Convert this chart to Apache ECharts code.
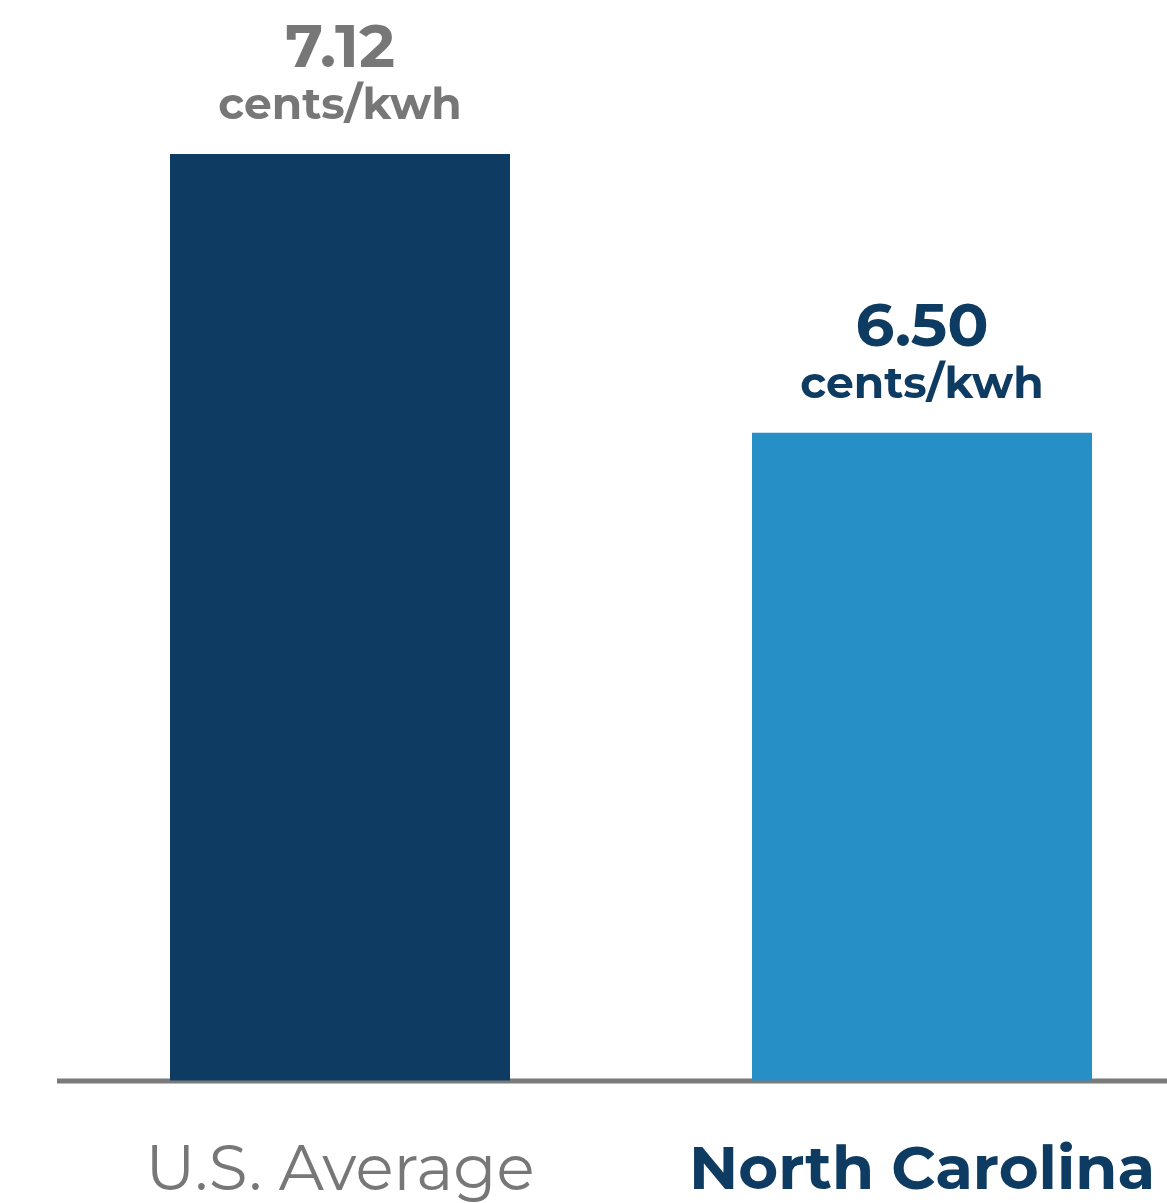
<!DOCTYPE html>
<html>
<head>
<meta charset="utf-8">
<script src="https://cdn.jsdelivr.net/npm/echarts@6/dist/echarts.min.js"></script>
<style>
html,body{margin:0;padding:0;background:#fff;}
#main{width:1167px;height:1203px;}
</style>
</head>
<body>
<div id="main"></div>
<script>
const categories = ['U.S. Average', 'North Carolina'];
const values = [7.12, 6.50];
const unitText = 'cents/kwh';

const barColors = ['#0e3b61', '#268fc6'];
const labelColors = ['#777777', '#0e3b61'];
const FONT = 'Montserrat, "Open Sans", "Noto Sans", sans-serif';

const chart = echarts.init(document.getElementById('main'));
chart.setOption({
  animation: false,
  backgroundColor: '#ffffff',
  grid: { left: 340, right: 245, top: 154, bottom: 122 },
  xAxis: {
    type: 'category',
    data: categories,
    boundaryGap: false,
    axisLine: { show: false },
    axisTick: { show: false },
    splitLine: { show: false },
    axisLabel: {
      margin: 58,
      formatter: function (v, i) { return '{c' + i + '|' + v + '}'; },
      rich: {
        c0: { fontFamily: FONT, fontSize: 63, fontWeight: 'normal', color: '#777777', lineHeight: 66 },
        c1: { fontFamily: FONT, fontSize: 61, fontWeight: 'bold', color: '#0e3b61', lineHeight: 66 }
      }
    }
  },
  yAxis: { type: 'value', min: 5.06, max: 7.12, show: false, splitLine: { show: false } },
  series: [{
    type: 'bar',
    barWidth: 340,
    data: values.map(function (v, i) {
      return {
        value: v,
        itemStyle: { color: barColors[i] },
        label: {
          rich: {
            v: { fontFamily: FONT, fontSize: 61, fontWeight: 'bold', color: labelColors[i], lineHeight: 62 },
            u: { fontFamily: FONT, fontSize: 44, fontWeight: 'bold', color: labelColors[i], lineHeight: 52 }
          }
        }
      };
    }),
    label: {
      show: true,
      position: 'top',
      distance: 22,
      formatter: function (p) { return '{v|' + p.value.toFixed(2) + '}\n{u|' + unitText + '}'; }
    }
  }],
  graphic: [{
    type: 'line',
    shape: { x1: 57, y1: 1081, x2: 1167, y2: 1081 },
    style: { stroke: '#7a7a7a', lineWidth: 5 },
    z: 0
  }]
});
</script>
</body>
</html>
